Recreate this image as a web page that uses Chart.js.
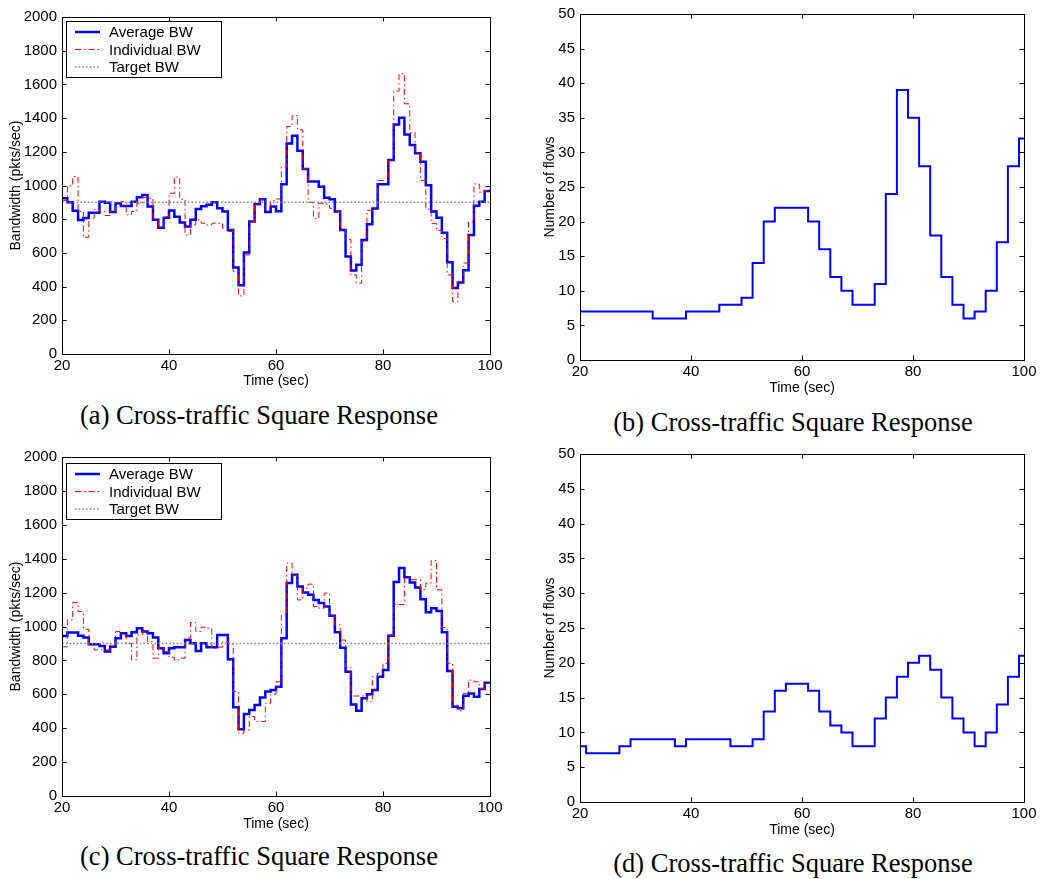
<!DOCTYPE html>
<html>
<head>
<meta charset="utf-8">
<script src="https://cdn.jsdelivr.net/npm/chart.js@4.4.0/dist/chart.umd.min.js"></script>
<style>
  body { margin: 0; background: #fff; }
  #figura { position: relative; width: 1042px; height: 879px; background: #fff; overflow: hidden; }
  canvas { position: absolute; }
  .legenda {
    position: absolute; width: 520px; text-align: center; white-space: nowrap;
    font-family: "Liberation Serif", "Times New Roman", serif; font-size: 26.5px; line-height: 26px; color: #000;
  }
</style>
</head>
<body>
<div id="figura">
  <canvas id="graficoA" width="520" height="400" style="left:0;top:0"></canvas>
  <canvas id="graficoB" width="522" height="400" style="left:520px;top:0"></canvas>
  <canvas id="graficoC" width="520" height="400" style="left:0;top:440px"></canvas>
  <canvas id="graficoD" width="522" height="400" style="left:520px;top:440px"></canvas>
  <div class="legenda" style="left:-1px;top:402px">(a) Cross-traffic Square Response</div>
  <div class="legenda" style="left:533px;top:409px">(b) Cross-traffic Square Response</div>
  <div class="legenda" style="left:-1px;top:843px">(c) Cross-traffic Square Response</div>
  <div class="legenda" style="left:533px;top:850px">(d) Cross-traffic Square Response</div>
</div>
<script>
// Tempo (sec) de cada degrau de 1 s, de 20 a 99
const tempos = [];
for (let t = 20; t < 100; t++) tempos.push(t);

// (a) banda média e individual (pkts/sec), um valor por segundo
const mediaA = [
  925, 900, 850, 795, 807, 839, 839, 904, 898, 843,
  894, 878, 878, 904, 930, 944, 875, 796, 750, 808,
  851, 815, 780, 756, 796, 861, 877, 886, 900, 865,
  845, 736, 513, 408, 602, 786, 890, 918, 843, 875,
  847, 1007, 1250, 1295, 1206, 1098, 1023, 1023, 993, 928,
  918, 845, 736, 578, 495, 529, 677, 770, 863, 1007,
  1007, 1151, 1362, 1402, 1303, 1240, 1192, 1141, 1002, 846,
  809, 720, 545, 391, 424, 497, 706, 880, 903, 968
];
const individualA = [
  910, 998, 1053, 846, 693, 806, 860, 846, 822, 846,
  895, 905, 826, 846, 895, 929, 925, 796, 747, 816,
  954, 1050, 919, 707, 766, 796, 776, 766, 776, 776,
  747, 727, 489, 345, 588, 786, 885, 915, 855, 910,
  920, 1110, 1350, 1415, 1330, 1100, 900, 805, 895, 890,
  865, 843, 736, 680, 470, 420, 666, 853, 862, 1030,
  1030, 1150, 1560, 1664, 1485, 1315, 1197, 1030, 860, 774,
  734, 685, 469, 311, 430, 540, 784, 1010, 960, 970
];

// (c) banda média e individual (pkts/sec)
const mediaC = [
  944, 964, 964, 946, 935, 895, 895, 885, 852, 881,
  931, 960, 944, 966, 990, 970, 960, 935, 872, 842,
  872, 878, 878, 921, 901, 856, 901, 878, 878, 950,
  950, 807, 524, 394, 484, 508, 537, 581, 616, 625,
  645, 931, 1256, 1305, 1236, 1201, 1187, 1157, 1138, 1118,
  1063, 966, 875, 733, 540, 503, 576, 601, 625, 704,
  743, 946, 1262, 1345, 1290, 1260, 1230, 1161, 1084, 1108,
  1092, 966, 737, 526, 517, 592, 605, 586, 631, 668
];
const individualC = [
  880, 1039, 1141, 1088, 984, 891, 862, 862, 862, 891,
  970, 950, 901, 803, 950, 970, 911, 813, 878, 852,
  819, 803, 813, 931, 1023, 970, 996, 990, 872, 878,
  911, 901, 616, 370, 390, 469, 439, 439, 547, 600,
  674, 1069, 1374, 1300, 1157, 1226, 1250, 1118, 1108, 1197,
  1069, 1010, 920, 760, 590, 590, 590, 556, 704, 724,
  783, 950, 1130, 1130, 1286, 1276, 1276, 1217, 1256, 1390,
  1217, 994, 783, 536, 503, 605, 684, 674, 635, 664
];

// Banda alvo (pkts/sec)
const bandaAlvo = 900;

// (b) número de fluxos: instantes de mudança e valores
const temposB = [20, 33.1, 39.1, 45.1, 49.1, 51.1, 53.1, 55.1, 61.1, 63.1, 65.1, 67.1, 69.1, 73.1,
  75.1, 77.1, 79.1, 81.1, 83.1, 85.1, 87.1, 89.1, 91.1, 93.1, 95.1, 97.1, 99.1, 100];
const fluxosB = [7, 6, 7, 8, 9, 14, 20, 22, 20, 16, 12, 10, 8, 11,
  24, 39, 35, 28, 18, 12, 8, 6, 7, 10, 17, 28, 32, 32];

// (d) número de fluxos
const temposD = [20, 21.1, 27.1, 29.1, 37.1, 39.1, 47.1, 51.1, 53.1, 55.1, 57.1, 61.1, 63.1, 65.1,
  67.1, 69.1, 73.1, 75.1, 77.1, 79.1, 81.1, 83.1, 85.1, 87.1, 89.1, 91.1, 93.1, 95.1, 97.1, 99.1, 100];
const fluxosD = [8, 7, 8, 9, 8, 9, 8, 9, 13, 16, 17, 16, 13, 11,
  10, 8, 12, 15, 18, 20, 21, 19, 15, 12, 10, 8, 10, 14, 18, 21, 21];

const FONTE = "'Liberation Sans', Arial, Helvetica, sans-serif";
Chart.defaults.font.family = FONTE;
Chart.defaults.color = '#000';

// Monta os pontos de um degrau por segundo (o último valor vai até 100)
function pontosPorSegundo(valores) {
  const pontos = valores.map((v, i) => ({ x: tempos[i], y: v }));
  pontos.push({ x: 100, y: valores[valores.length - 1] });
  return pontos;
}

function pontosDegraus(ts, vs) {
  return ts.map((t, i) => ({ x: t, y: vs[i] }));
}

// Caixa do eixo com marcas para dentro, nos quatro lados (estilo MATLAB)
const moldura = {
  id: 'moldura',
  afterDatasetsDraw(chart) {
    const { ctx, chartArea: a, scales: { x, y } } = chart;
    const tam = 4.5;
    ctx.save();
    ctx.strokeStyle = '#000';
    ctx.lineWidth = 1;
    ctx.beginPath();
    x.ticks.forEach(t => {
      const px = Math.round(x.getPixelForValue(t.value)) + 0.5;
      ctx.moveTo(px, a.bottom); ctx.lineTo(px, a.bottom - tam);
      ctx.moveTo(px, a.top); ctx.lineTo(px, a.top + tam);
    });
    y.ticks.forEach(t => {
      const py = Math.round(y.getPixelForValue(t.value)) + 0.5;
      ctx.moveTo(a.left, py); ctx.lineTo(a.left + tam, py);
      ctx.moveTo(a.right, py); ctx.lineTo(a.right - tam, py);
    });
    ctx.stroke();
    ctx.strokeRect(a.left + 0.5, a.top + 0.5, a.right - a.left, a.bottom - a.top);
    ctx.restore();
  }
};

// Legenda com borda, dentro da área do gráfico
const legendaCaixa = {
  id: 'legendaCaixa',
  afterDraw(chart, args, opts) {
    if (!opts || !opts.mostrar) return;
    const { ctx, chartArea: a } = chart;
    const x0 = a.left + opts.dx, y0 = a.top + opts.dy;
    ctx.save();
    ctx.fillStyle = '#fff';
    ctx.fillRect(x0, y0, 155, 56);
    ctx.strokeStyle = '#000';
    ctx.lineWidth = 1;
    ctx.strokeRect(x0 + 0.5, y0 + 0.5, 155, 56);
    chart.data.datasets.forEach((ds, i) => {
      const cy = y0 + 11 + i * 17.5;
      ctx.beginPath();
      ctx.setLineDash(ds.borderDash || []);
      ctx.strokeStyle = ds.borderColor;
      ctx.lineWidth = Math.max(ds.borderWidth, 1.2);
      ctx.moveTo(x0 + 9, cy);
      ctx.lineTo(x0 + 34, cy);
      ctx.stroke();
      ctx.setLineDash([]);
      ctx.fillStyle = '#000';
      ctx.font = '15px ' + FONTE;
      ctx.textBaseline = 'middle';
      ctx.fillText(ds.label, x0 + 43, cy + 1);
    });
    ctx.restore();
  }
};

// Cria um painel; geo fixa a posição da área do gráfico dentro do canvas
function criaGrafico(id, geo, datasets, eixoY, legenda) {
  return new Chart(document.getElementById(id), {
    type: 'line',
    data: { datasets },
    options: {
      responsive: false,
      animation: false,
      devicePixelRatio: 1,
      layout: { padding: { top: geo.topo, right: geo.direita, left: 0, bottom: 0 } },
      elements: { point: { radius: 0 }, line: { tension: 0 } },
      plugins: {
        legend: { display: false },
        tooltip: { enabled: false },
        legendaCaixa: legenda
      },
      scales: {
        x: {
          type: 'linear', min: 20, max: 100,
          grid: { display: false, drawTicks: false },
          border: { display: false },
          ticks: { stepSize: 20, padding: 3, maxRotation: 0, autoSkip: false, font: { size: 15 },
                   callback: v => String(v) },
          title: { display: true, text: 'Time (sec)', font: { size: 14 }, padding: { top: 0, bottom: geo.tituloX } },
          afterFit: s => { s.height = geo.alturaX; }
        },
        y: {
          min: eixoY.min, max: eixoY.max,
          grid: { display: false, drawTicks: false },
          border: { display: false },
          ticks: { stepSize: eixoY.passo, padding: 5, autoSkip: false, font: { size: 15 },
                   callback: v => String(v) },
          title: { display: true, text: eixoY.titulo, font: { size: 14 }, padding: { top: geo.tituloY, bottom: 0 } },
          afterFit: s => { s.width = geo.larguraY; }
        }
      }
    },
    plugins: [moldura, legendaCaixa]
  });
}

function seriesBanda(media, individual) {
  return [
    { label: 'Average BW', data: pontosPorSegundo(media), stepped: 'before',
      borderColor: '#0000ff', borderWidth: 2.5, order: 2 },
    { label: 'Individual BW', data: pontosPorSegundo(individual), stepped: 'before',
      borderColor: '#ff0000', borderWidth: 1, borderDash: [6, 3, 1.5, 3], order: 1 },
    { label: 'Target BW', data: [{ x: 20, y: bandaAlvo }, { x: 100, y: bandaAlvo }],
      borderColor: '#808080', borderWidth: 1.5, borderDash: [1.5, 2.2], order: 0 }
  ];
}

function serieFluxos(ts, vs) {
  return [{ label: 'Flows', data: pontosDegraus(ts, vs), stepped: 'before',
    borderColor: '#0000ff', borderWidth: 2 }];
}

const eixoBanda = { min: 0, max: 2000, passo: 200, titulo: 'Bandwidth (pkts/sec)' };
const eixoFluxos = { min: 0, max: 50, passo: 5, titulo: 'Number of flows' };

criaGrafico('graficoA', { topo: 17, direita: 30, alturaX: 46, larguraY: 62, tituloX: 10.6, tituloY: 7.6 },
  seriesBanda(mediaA, individualA), eixoBanda, { mostrar: true, dx: 4, dy: 4 });
criaGrafico('graficoB', { topo: 10, direita: 18, alturaX: 40, larguraY: 60, tituloX: 3.6, tituloY: 21.6 },
  serieFluxos(temposB, fluxosB), eixoFluxos, { mostrar: false });
criaGrafico('graficoC', { topo: 17, direita: 30, alturaX: 44, larguraY: 62, tituloX: 7.6, tituloY: 7.6 },
  seriesBanda(mediaC, individualC), eixoBanda, { mostrar: true, dx: 4, dy: 6 });
criaGrafico('graficoD', { topo: 11, direita: 18, alturaX: 38, larguraY: 60, tituloX: 1.6, tituloY: 21.6 },
  serieFluxos(temposD, fluxosD), eixoFluxos, { mostrar: false });
</script>
</body>
</html>
